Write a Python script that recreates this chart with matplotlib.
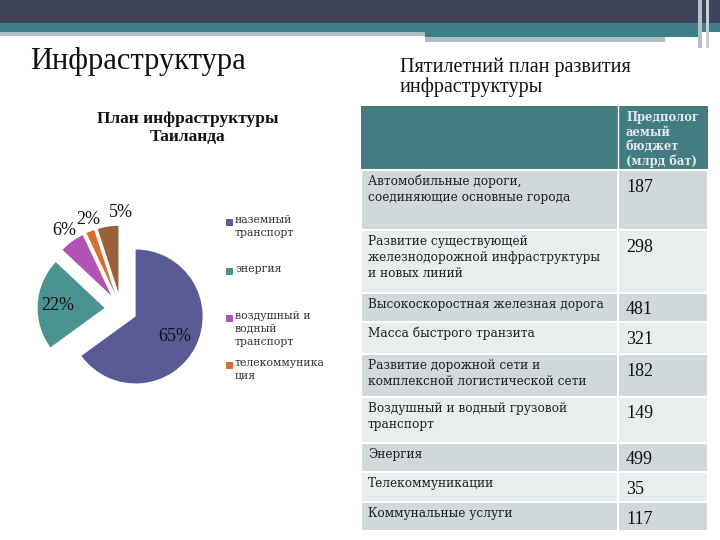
import numpy as np
import matplotlib.pyplot as plt
from matplotlib.patches import Rectangle

# pie data
sectors = ['наземный\nтранспорт', 'энергия', 'воздушный и\nводный\nтранспорт', 'телекоммуника\nция', 'коммунальные услуги']
shares = [65, 22, 6, 2, 5]
colors = ['#585b95', '#4a9390', '#b052b6', '#d96f2e', '#99603a']

# table data
projects = ['Автомобильные дороги,\nсоединяющие основные города',
            'Развитие существующей\nжелезнодорожной инфраструктуры\nи новых линий',
            'Высокоскоростная железная дорога',
            'Масса быстрого транзита',
            'Развитие дорожной сети и\nкомплексной логистической сети',
            'Воздушный и водный грузовой\nтранспорт',
            'Энергия',
            'Телекоммуникации',
            'Коммунальные услуги']
budget = [187, 298, 481, 321, 182, 149, 499, 35, 117]
header = 'Предполог\nаемый\nбюджет\n(млрд бат)'

fig = plt.figure(figsize=(7.2, 5.4), dpi=100)
bg = fig.add_axes([0, 0, 1, 1])
bg.set_xlim(0, 720)
bg.set_ylim(540, 0)
bg.axis('off')

# slide decoration on top
bg.add_patch(Rectangle((0, 0), 720, 23, color='#3f4357', lw=0))
bg.add_patch(Rectangle((0, 23), 720, 9, color='#3e8088', lw=0))
bg.add_patch(Rectangle((0, 32), 425, 4, color='#a9bdc2', lw=0))
bg.add_patch(Rectangle((425, 32), 275, 5, color='#3e8088', lw=0))
bg.add_patch(Rectangle((425, 37), 240, 5, color='#a9bdc2', lw=0))
bg.add_patch(Rectangle((698, 0), 4, 48, color='#b7bfc8', lw=0))
bg.add_patch(Rectangle((706, 0), 3, 48, color='#c9cfd6', lw=0))

bg.text(30, 62, 'Инфраструктура', family='Liberation Serif', fontsize=22,
        va='center', ha='left', color='#111111')
bg.text(400, 77, 'Пятилетний план развития\nинфраструктуры', family='Liberation Serif',
        fontsize=14.5, va='center', ha='left', color='#111111', linespacing=1.05)
bg.text(188, 128, 'План инфраструктуры\nТаиланда', family='Liberation Serif',
        fontsize=12.5, weight='bold', va='center', ha='center', color='#111111',
        linespacing=1.1)

# table
x0, xdiv, x1 = 361, 618, 708
bounds = [170, 230, 293, 322, 354, 397, 443, 472, 502, 531]
bg.add_patch(Rectangle((x0, 106), x1 - x0, 170 - 106, color='#437d82', lw=0))
bg.plot([xdiv, xdiv], [106, 170], color='white', lw=1)
bg.text(626, 111, header, family='DejaVu Serif', fontsize=8.3, weight='bold',
        va='top', ha='left', color='#e4eaea', linespacing=1.15)
for i, (name, val) in enumerate(zip(projects, budget)):
    top, bot = bounds[i], bounds[i + 1]
    c = '#d1d8da' if i % 2 == 0 else '#e8eded'
    bg.add_patch(Rectangle((x0, top), x1 - x0, bot - top, facecolor=c,
                           edgecolor='white', lw=1.5))
    bg.plot([xdiv, xdiv], [top, bot], color='white', lw=1.5)
    bg.text(368, top + 5, name, family='DejaVu Serif', fontsize=8.7, va='top',
            ha='left', color='#222222', linespacing=1.3)
    bg.text(626, top + 17, str(val), family='Liberation Serif', fontsize=13,
            va='center', ha='left', color='#111111')

# pie
cx, cy, size = 121, 309, 200
ax = fig.add_axes([(cx - size / 2) / 720, (540 - cy - size / 2) / 540, size / 720, size / 540])
wedges, _ = ax.pie(shares, colors=colors, radius=1, explode=[0.245] * 5,
                   startangle=90, counterclock=False, wedgeprops=dict(lw=0))
lim = size / 2 / 67
ax.set_xlim(-lim, lim)
ax.set_ylim(-lim, lim)
ax.axis('off')

dist = [0.65, 0.7, 1.2, 1.18, 1.2]
turn = [0, 0, 0, -2, -11]
for w, v, d, t in zip(wedges, shares, dist, turn):
    mid = np.deg2rad((w.theta1 + w.theta2) / 2 + t)
    x = w.center[0] + w.r * d * np.cos(mid)
    y = w.center[1] + w.r * d * np.sin(mid)
    ax.text(x, y, f'{v}%', family='Liberation Serif', fontsize=13,
            ha='center', va='center', color='#111111')

# legend
leg_y = [222, 271, 318, 365]
for name, c, y in zip(sectors[:4], colors[:4], leg_y):
    bg.add_patch(Rectangle((226, y - 3.5), 7, 7, color=c, lw=0))
    bg.text(235, y - 7, name, family='DejaVu Serif', fontsize=7.8, va='top',
            ha='left', color='#333333', linespacing=1.35)

fig.savefig('out.png', dpi=100)
